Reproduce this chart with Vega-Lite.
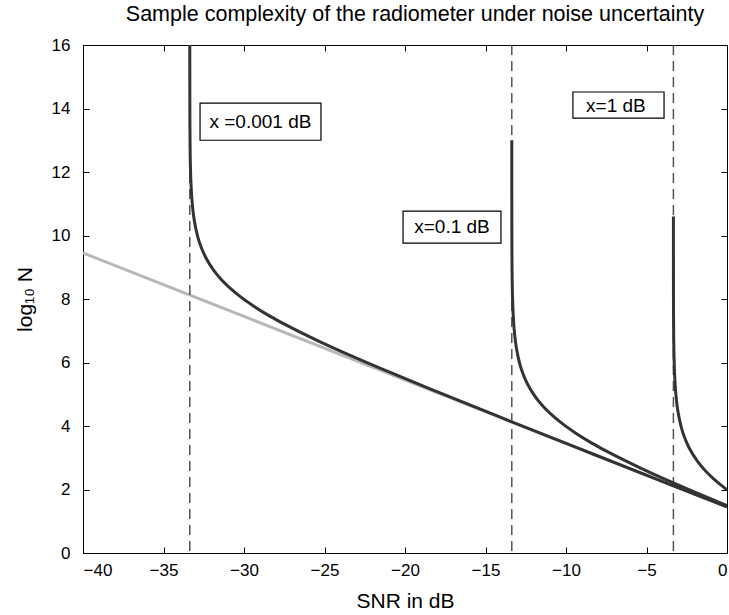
{
  "$schema": "https://vega.github.io/schema/vega-lite/v6.json",
  "width": 644,
  "height": 508,
  "autosize": {"type": "none"},
  "padding": {"left": 83, "top": 45, "right": 2, "bottom": 62},
  "background": "white",
  "config": {
    "font": "Liberation Sans",
    "view": {"stroke": "black", "strokeWidth": 1},
    "axis": {"grid": false, "domainColor": "black", "tickColor": "black", "labelColor": "black", "titleColor": "black", "labelFontSize": 17, "titleFontSize": 21, "titleFontWeight": "normal", "tickSize": -6}
  },
  "title": {"text": "Sample complexity of the radiometer under noise uncertainty", "fontSize": 21.5, "fontWeight": "normal", "color": "black", "offset": 11, "anchor": "middle", "dx": 10},
  "datasets": {
    "base": [{"s": -40, "n": 9.45}, {"s": 0, "n": 1.45}],
    "walls": [{"s": -33.3675}, {"s": -13.3673}, {"s": -3.3293}],
    "curves": [
      {"c": "0.001", "s": -33.367, "n": 16.0},
      {"c": "0.001", "s": -33.3665, "n": 15.399},
      {"c": "0.001", "s": -33.3625, "n": 14.0},
      {"c": "0.001", "s": -33.3575, "n": 13.399},
      {"c": "0.001", "s": -33.3475, "n": 12.795},
      {"c": "0.001", "s": -33.3175, "n": 11.997},
      {"c": "0.001", "s": -33.2675, "n": 11.39},
      {"c": "0.001", "s": -33.1675, "n": 10.777},
      {"c": "0.001", "s": -33.0675, "n": 10.415},
      {"c": "0.001", "s": -32.8675, "n": 9.951},
      {"c": "0.001", "s": -32.6175, "n": 9.573},
      {"c": "0.001", "s": -32.3675, "n": 9.298},
      {"c": "0.001", "s": -31.8675, "n": 8.893},
      {"c": "0.001", "s": -31.3675, "n": 8.59},
      {"c": "0.001", "s": -30.3675, "n": 8.128},
      {"c": "0.001", "s": -29.3675, "n": 7.765},
      {"c": "0.001", "s": -28.3675, "n": 7.454},
      {"c": "0.001", "s": -27.3675, "n": 7.175},
      {"c": "0.001", "s": -25.3675, "n": 6.674},
      {"c": "0.001", "s": -23.3675, "n": 6.215},
      {"c": "0.001", "s": -21.3675, "n": 5.78},
      {"c": "0.001", "s": -18.3675, "n": 5.151},
      {"c": "0.001", "s": -13.3675, "n": 4.132},
      {"c": "0.001", "s": -8.3675, "n": 3.126},
      {"c": "0.001", "s": -3.3675, "n": 2.124},
      {"c": "0.001", "s": 0, "n": 1.45},
      {"c": "0.1", "s": -13.3671, "n": 13.0},
      {"c": "0.1", "s": -13.3663, "n": 11.399},
      {"c": "0.1", "s": -13.3623, "n": 10.0},
      {"c": "0.1", "s": -13.3573, "n": 9.399},
      {"c": "0.1", "s": -13.3473, "n": 8.795},
      {"c": "0.1", "s": -13.3173, "n": 7.997},
      {"c": "0.1", "s": -13.2673, "n": 7.39},
      {"c": "0.1", "s": -13.1673, "n": 6.777},
      {"c": "0.1", "s": -13.0673, "n": 6.415},
      {"c": "0.1", "s": -12.8673, "n": 5.951},
      {"c": "0.1", "s": -12.6173, "n": 5.573},
      {"c": "0.1", "s": -12.3673, "n": 5.298},
      {"c": "0.1", "s": -11.8673, "n": 4.893},
      {"c": "0.1", "s": -11.3673, "n": 4.59},
      {"c": "0.1", "s": -10.3673, "n": 4.128},
      {"c": "0.1", "s": -9.3673, "n": 3.765},
      {"c": "0.1", "s": -8.3673, "n": 3.454},
      {"c": "0.1", "s": -7.3673, "n": 3.175},
      {"c": "0.1", "s": -5.3673, "n": 2.674},
      {"c": "0.1", "s": -3.3673, "n": 2.215},
      {"c": "0.1", "s": -1.3673, "n": 1.78},
      {"c": "0.1", "s": 0, "n": 1.491},
      {"c": "1", "s": -3.329, "n": 10.6},
      {"c": "1", "s": -3.3283, "n": 9.392},
      {"c": "1", "s": -3.3243, "n": 7.993},
      {"c": "1", "s": -3.3193, "n": 7.391},
      {"c": "1", "s": -3.3093, "n": 6.787},
      {"c": "1", "s": -3.2793, "n": 5.989},
      {"c": "1", "s": -3.2293, "n": 5.382},
      {"c": "1", "s": -3.1293, "n": 4.769},
      {"c": "1", "s": -3.0293, "n": 4.407},
      {"c": "1", "s": -2.8293, "n": 3.943},
      {"c": "1", "s": -2.5793, "n": 3.565},
      {"c": "1", "s": -2.3293, "n": 3.29},
      {"c": "1", "s": -1.8293, "n": 2.885},
      {"c": "1", "s": -1.3293, "n": 2.582},
      {"c": "1", "s": -0.8293, "n": 2.334},
      {"c": "1", "s": -0.3293, "n": 2.12},
      {"c": "1", "s": 0, "n": 1.99}
    ],
    "labels": [
      {"label": "x =0.001 dB", "x1": -32.73, "x2": -25.22, "y1": 13.0, "y2": 14.17, "xm": -28.98, "ym": 13.58},
      {"label": "x=0.1 dB", "x1": -20.12, "x2": -14.04, "y1": 9.76, "y2": 10.77, "xm": -17.08, "ym": 10.26},
      {"label": "x=1 dB", "x1": -9.57, "x2": -3.91, "y1": 13.7, "y2": 14.52, "xm": -6.9, "ym": 14.07}
    ]
  },
  "layer": [
    {
      "data": {"name": "base"},
      "mark": {"type": "line", "color": "#b8b8b8", "strokeWidth": 3, "clip": true},
      "encoding": {
        "x": {"field": "s", "type": "quantitative", "scale": {"domain": [-40, 0], "nice": false, "zero": false}, "axis": {"orient": "top", "labels": false, "title": null, "values": [-40, -35, -30, -25, -20, -15, -10, -5, 0], "domain": false}},
        "y": {"field": "n", "type": "quantitative", "scale": {"domain": [0, 16], "nice": false}, "axis": {"orient": "right", "labels": false, "title": null, "values": [0, 2, 4, 6, 8, 10, 12, 14, 16], "domain": false}}
      }
    },
    {
      "data": {"name": "walls"},
      "mark": {"type": "rule", "color": "#555555", "strokeWidth": 1.5, "strokeDash": [10, 6]},
      "encoding": {"x": {"field": "s", "type": "quantitative", "axis": null}}
    },
    {
      "data": {"name": "curves"},
      "mark": {"type": "line", "color": "#333333", "strokeWidth": 3, "clip": true, "interpolate": "monotone"},
      "encoding": {
        "x": {"field": "s", "type": "quantitative", "axis": {"orient": "bottom", "title": "SNR in dB", "values": [-40, -35, -30, -25, -20, -15, -10, -5, 0], "labelPadding": 15, "titlePadding": 12}},
        "y": {"field": "n", "type": "quantitative", "axis": {"orient": "left", "title": "log₁₀ N", "values": [0, 2, 4, 6, 8, 10, 12, 14, 16], "labelPadding": 19, "titlePadding": 16}},
        "detail": {"field": "c"}
      }
    },
    {
      "data": {"name": "labels"},
      "mark": {"type": "rect", "fill": "white", "stroke": "black", "strokeWidth": 1.2},
      "encoding": {
        "x": {"field": "x1", "type": "quantitative", "axis": null},
        "x2": {"field": "x2"},
        "y": {"field": "y1", "type": "quantitative", "axis": null},
        "y2": {"field": "y2"}
      }
    },
    {
      "data": {"name": "labels"},
      "mark": {"type": "text", "fontSize": 19, "color": "black", "align": "center", "baseline": "middle"},
      "encoding": {
        "x": {"field": "xm", "type": "quantitative", "axis": null},
        "y": {"field": "ym", "type": "quantitative", "axis": null},
        "text": {"field": "label"}
      }
    }
  ]
}
